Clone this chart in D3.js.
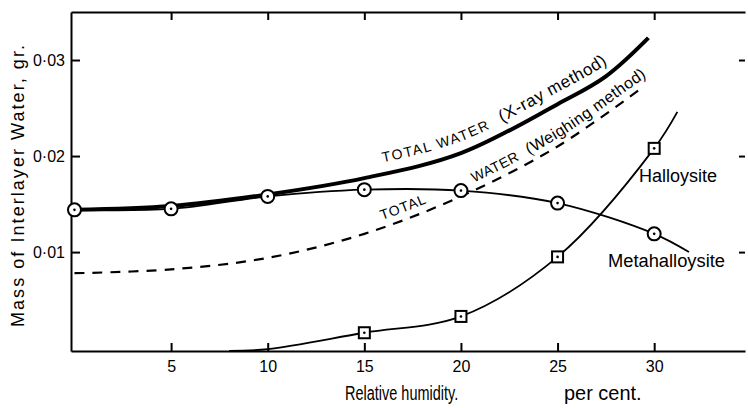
<!DOCTYPE html>
<html>
<head>
<meta charset="utf-8">
<script src="https://cdn.jsdelivr.net/npm/d3@7"></script>
<style>
  body { margin: 0; background: #fff; }
  svg { font-family: "Liberation Sans", Arial, sans-serif; }
  .axis path, .axis line { stroke: #000; stroke-width: 2; }
  .axis text { fill: #000; font-size: 16px; font-family: "Liberation Sans", Arial, sans-serif; }
</style>
</head>
<body>
<div id="chart"></div>
<script>
const w = 748;
const h = 408;

// tick values / labels
const xTicks = [5, 10, 15, 20, 25, 30];
const yTicks = [0.01, 0.02, 0.03];
const yTickLabels = ["0·01", "0·02", "0·03"];

// total water, X-ray method (thick line)
const xrayRH = [0, 5, 10, 15, 20, 25, 27.5, 29.7];
const xrayWater = [0.0144, 0.0148, 0.0160, 0.0177, 0.0203, 0.0254, 0.0283, 0.0323];

// total water, weighing method (dashed)
const weighRH = [0, 5, 10, 15, 20, 25, 29.5];
const weighWater = [0.0078, 0.0082, 0.0094, 0.0119, 0.0158, 0.0210, 0.0273];

// metahalloysite (circles), curve runs on a little past the last point
const metaRH = [0, 5, 10, 15, 20, 25, 30];
const metaWater = [0.0144, 0.0145, 0.0158, 0.0165, 0.0164, 0.0151, 0.0119];
const metaTail = [31.8, 0.0100];

// halloysite (squares), curve starts on the axis and runs past the last point
const halloRH = [15, 20, 25, 30];
const halloWater = [0.0016, 0.0033, 0.0095, 0.0208];
const halloHead = [[8, -0.0003], [10, -0.0001]];
const halloTail = [31.2, 0.0246];

const padL = 71, padR = 745, padT = 12, padB = 351;

const x = d3.scaleLinear().domain([-0.18, 34.7]).range([padL, padR]);
const y = d3.scaleLinear().domain([-0.0003, 0.035]).range([padB, padT]);

const zip = (a, b) => a.map((v, i) => [v, b[i]]);
const xray = zip(xrayRH, xrayWater);
const weigh = zip(weighRH, weighWater);
const meta = zip(metaRH, metaWater);
const hallo = zip(halloRH, halloWater);

const svg = d3.select("#chart").append("svg")
  .attr("width", w)
  .attr("height", h);

svg.append("rect").attr("width", w).attr("height", h).attr("fill", "#fff");

// axes
svg.append("g").attr("class", "axis")
  .attr("transform", "translate(0," + padB + ")")
  .call(d3.axisBottom(x).tickValues(xTicks).tickSizeInner(-8).tickSizeOuter(0).tickPadding(10));

svg.append("g").attr("class", "axis")
  .attr("transform", "translate(0," + padT + ")")
  .call(d3.axisTop(x).tickValues(xTicks).tickSizeInner(-8).tickSizeOuter(0).tickFormat(""));

svg.append("g").attr("class", "axis")
  .attr("transform", "translate(" + padL + ",0)")
  .call(d3.axisLeft(y).tickValues(yTicks).tickSizeInner(-9).tickSizeOuter(0).tickPadding(6)
    .tickFormat((d, i) => yTickLabels[i]));

const rAxis = svg.append("g").attr("class", "axis")
  .attr("transform", "translate(" + padR + ",0)")
  .call(d3.axisRight(y).tickValues(yTicks).tickSizeInner(-6).tickSizeOuter(0).tickFormat(""));
rAxis.select(".domain").remove();

const line = d3.line()
  .x(d => x(d[0]))
  .y(d => y(d[1]))
  .curve(d3.curveCatmullRom.alpha(0.5));

// curves
svg.append("path")
  .attr("d", line(weigh))
  .attr("fill", "none").attr("stroke", "#000")
  .attr("stroke-width", 2.2).attr("stroke-dasharray", "10,8");

svg.append("path")
  .attr("d", line(halloHead.concat(hallo, [halloTail])))
  .attr("fill", "none").attr("stroke", "#000").attr("stroke-width", 1.8);

svg.append("path")
  .attr("d", line(meta.concat([metaTail])))
  .attr("fill", "none").attr("stroke", "#000").attr("stroke-width", 1.8);

svg.append("path")
  .attr("d", line(xray))
  .attr("fill", "none").attr("stroke", "#000").attr("stroke-width", 4);

// markers
const circ = svg.selectAll(".meta").data(meta).enter().append("g")
  .attr("class", "meta")
  .attr("transform", d => "translate(" + x(d[0]) + "," + y(d[1]) + ")");
circ.append("circle").attr("r", 6.5).attr("fill", "#fff").attr("stroke", "#000").attr("stroke-width", 2);
circ.append("circle").attr("r", 1.3).attr("fill", "#000");

const sq = svg.selectAll(".hallo").data(hallo).enter().append("g")
  .attr("class", "hallo")
  .attr("transform", d => "translate(" + x(d[0]) + "," + y(d[1]) + ")");
sq.append("rect").attr("x", -5.5).attr("y", -5.5).attr("width", 11).attr("height", 11)
  .attr("fill", "#fff").attr("stroke", "#000").attr("stroke-width", 2);
sq.append("circle").attr("r", 1.3).attr("fill", "#000");

// labels that follow the curves: curve shifted up, with a short straight run-out
function labelPath(data, dy, extra) {
  const pts = data.map(d => [x(d[0]), y(d[1]) + dy]);
  const a = pts[pts.length - 2], b = pts[pts.length - 1];
  const len = Math.hypot(b[0] - a[0], b[1] - a[1]);
  pts.push([b[0] + (b[0] - a[0]) / len * extra, b[1] + (b[1] - a[1]) / len * extra]);
  return d3.line().curve(d3.curveCatmullRom.alpha(0.5))(pts);
}

function lengthAtX(node, px) {
  let lo = 0, hi = node.getTotalLength();
  for (let k = 0; k < 40; k++) {
    const mid = (lo + hi) / 2;
    if (node.getPointAtLength(mid).x < px) lo = mid; else hi = mid;
  }
  return lo;
}

const defs = svg.append("defs");
const xrayPath = defs.append("path").attr("id", "xrayLabel").attr("d", labelPath(xray, -12, 60));
const weighPath = defs.append("path").attr("id", "weighLabel").attr("d", labelPath(weigh, -8, 60));

const t1 = svg.append("text").attr("fill", "#000")
  .append("textPath").attr("href", "#xrayLabel")
  .attr("startOffset", lengthAtX(xrayPath.node(), 383));
t1.append("tspan").attr("font-size", 14).attr("letter-spacing", 1.6).text("TOTAL WATER");
t1.append("tspan").attr("font-size", 17).attr("dx", 12).attr("letter-spacing", 0.6).text("(X-ray method)");

svg.append("text").attr("fill", "#000")
  .append("textPath").attr("href", "#weighLabel")
  .attr("startOffset", lengthAtX(weighPath.node(), 382))
  .attr("font-size", 14).attr("letter-spacing", 1)
  .text("TOTAL");

const t2 = svg.append("text").attr("fill", "#000")
  .append("textPath").attr("href", "#weighLabel")
  .attr("startOffset", lengthAtX(weighPath.node(), 474));
t2.append("tspan").attr("font-size", 14).attr("letter-spacing", 0.5).text("WATER");
t2.append("tspan").attr("font-size", 16).attr("dx", 10).attr("letter-spacing", 0.4).text("(Weighing method)");

// series names
svg.append("text").attr("x", 639).attr("y", 182)
  .attr("font-size", 18).attr("textLength", 78).attr("lengthAdjust", "spacingAndGlyphs")
  .text("Halloysite");

svg.append("text").attr("x", 608).attr("y", 267)
  .attr("font-size", 18).attr("textLength", 117).attr("lengthAdjust", "spacingAndGlyphs")
  .text("Metahalloysite");

// axis titles
svg.append("text")
  .attr("transform", "translate(345,400) scale(0.69,1)")
  .attr("font-size", 21)
  .text("Relative humidity.");

svg.append("text")
  .attr("transform", "translate(564,400) scale(0.95,1)")
  .attr("font-size", 21)
  .text("per cent.");

svg.append("text")
  .attr("transform", "translate(24,186) rotate(-90)")
  .attr("text-anchor", "middle")
  .attr("font-size", 18).attr("textLength", 282).attr("lengthAdjust", "spacing")
  .text("Mass of Interlayer Water, gr.");
</script>
</body>
</html>
